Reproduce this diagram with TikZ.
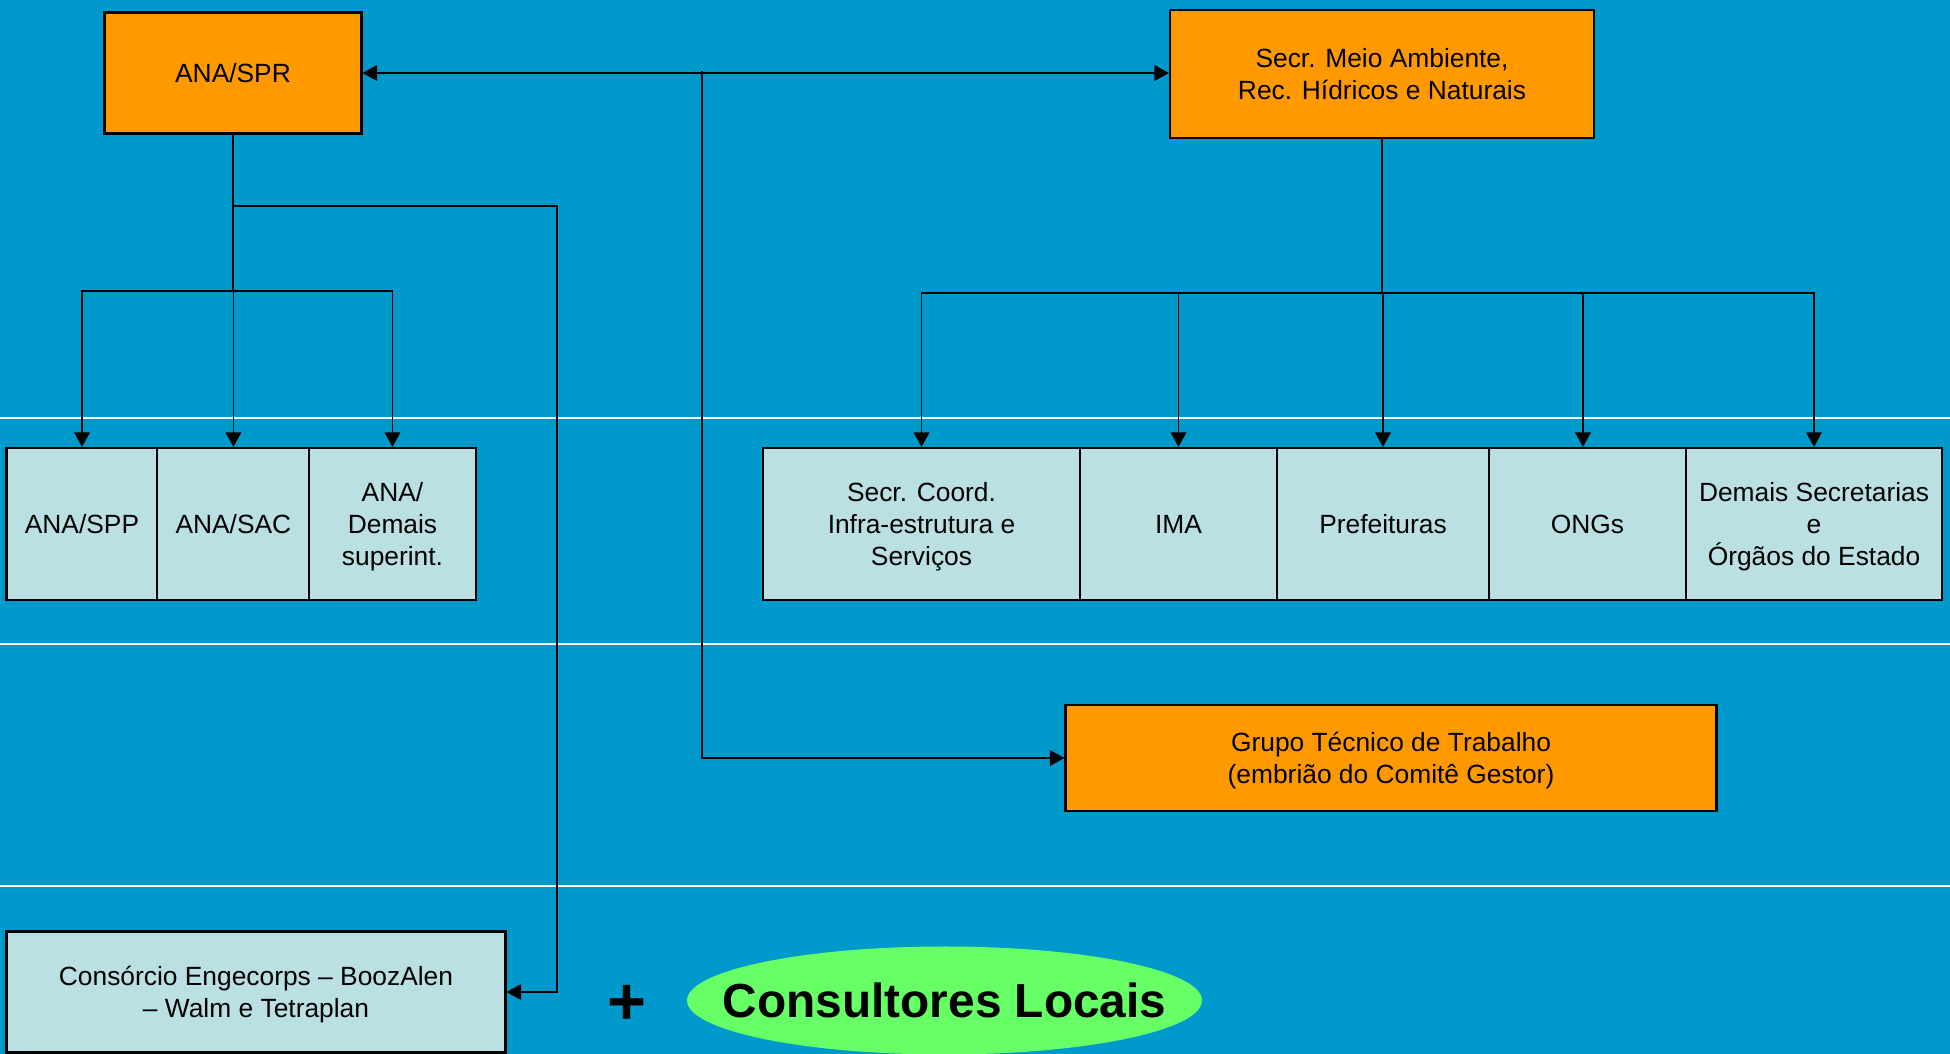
\documentclass[tikz,border=0pt]{standalone}
\usepackage{fontspec}
\setmainfont{Liberation Sans}
\usetikzlibrary{arrows.meta,shapes.geometric}
\definecolor{sea}{RGB}{0,153,204}
\definecolor{amber}{RGB}{255,153,0}
\definecolor{mist}{RGB}{187,224,227}
\definecolor{lime}{RGB}{102,255,102}
\newcommand{\fsl}{/}
\tikzset{
  headbox/.style={draw=black,line width=0.6pt,fill=amber,align=center,inner sep=0pt,text depth=-1pt},
  unitbox/.style={draw=black,line width=0.6pt,fill=mist,align=center,inner sep=0pt,text depth=-1pt},
  link/.style={line width=0.6pt,-{Triangle[length=1.45mm,width=1.55mm]}},
  trunk/.style={line width=0.6pt}
}

\begin{document}
\begin{tikzpicture}[x=0.1mm,y=-0.1mm,font=\fontsize{7.5pt}{9.1pt}\selectfont]
    \useasboundingbox (0,0) rectangle (1950,1054);
    \fill[sea] (0,0) rectangle (1950,1054);
    % white bands between the levels
    \foreach \y in {418,644,886}
      \draw[white,line width=0.75pt] (0,\y) -- (1950,\y);

    \node[headbox,minimum width=25.7mm,minimum height=12.1mm] (spr) at (233,73) {ANA/SPR};
    \node[headbox,minimum width=42.4mm,minimum height=12.8mm] (sema) at (1382,74)
      {Secr. Meio Ambiente,\\Rec. Hídricos e Naturais};
    \node[headbox,minimum width=65.1mm,minimum height=10.65mm] (gtt) at (1391,758)
      {Grupo Técnico de Trabalho\\(embrião do Comitê Gestor)};

    \foreach \x/\w/\n/\t in {
      82/15.1/spp/ANA\fsl SPP,
      233.4/15.2/sac/ANA\fsl SAC,
      392.5/16.65/dsup/ANA\fsl\\Demais\\superint.,
      921.5/31.7/sci/Secr. Coord.\\Infra-estrutura e\\Serviços,
      1178.5/19.7/ima/IMA,
      1383/21.2/pref/Prefeituras,
      1587.5/19.7/ong/ONGs,
      1814/25.6/dse/Demais Secretarias\\e\\Órgãos do Estado}
    {
      \node[unitbox,minimum width=\w mm,minimum height=15.2mm] (\n) at (\x,524) {\t};
    }

    \node[unitbox,minimum width=49.9mm,minimum height=12.1mm] (cons) at (256,992)
      {Consórcio Engecorps – BoozAlen\\– Walm e Tetraplan};
    \node[font=\fontsize{19pt}{19pt}\selectfont\bfseries] (plus) at (627,1005) {+};
    \node[ellipse,fill=lime,minimum width=51.5mm,minimum height=10.8mm,inner sep=0pt] (locbg) at (944.5,1000.5) {};
    \node[font=\fontsize{13.6pt}{14pt}\selectfont\bfseries] (loc) at (locbg) {Consultores Locais};

    % connectors
    \draw[trunk,{Triangle[length=1.45mm,width=1.55mm]}-{Triangle[length=1.45mm,width=1.55mm]}]
      (spr.east) -- (spr.east -| sema.west);
    \coordinate (tap) at (702,71);
    \draw[link,line width=0.5pt] (tap) |- (gtt.west);

    \coordinate (sprhub) at (233,291);
    \draw[trunk] (spr.south) -- (sprhub);
    \foreach \n in {spp,sac,dsup}
      \draw[link,line width=0.5pt] (sprhub) -| (\n.north);
    \coordinate (elbow) at (233,206);
    \draw[link,line width=0.5pt] (elbow) -- (557,206) |- (cons.east);

    \coordinate (semahub) at (1382,293);
    \draw[trunk] (sema.south) -- (semahub);
    \foreach \n/\dx in {sci/0,ima/0,pref/0,ong/-0.45,dse/0}
      \draw[link,line width=0.5pt] (semahub) -| ([xshift=\dx mm]\n.north);
\end{tikzpicture}
\end{document}
